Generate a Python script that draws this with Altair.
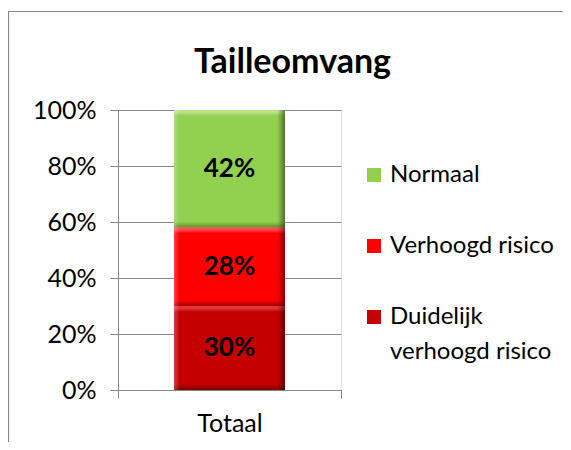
import altair as alt
import pandas as pd

categories = ["Totaal"]
series = ["Duidelijk verhoogd risico", "Verhoogd risico", "Normaal"]
values = [30, 28, 42]
legend_order = ["Normaal", "Verhoogd risico", "Duidelijk verhoogd risico"]
legend_colors = ["#92D050", "#FF0000", "#C40000"]
y_ticks = [0, 0.2, 0.4, 0.6, 0.8, 1.0]
title_text = "Tailleomvang"

# bevel styling per series: (top light, base, bottom dark, bevel fraction)
bevel = {
    "Normaal": ("#b6e486", "#92D050", "#5f8a30", 0.05),
    "Verhoogd risico": ("#ff4a4a", "#FF0000", "#a80000", 0.075),
    "Duidelijk verhoogd risico": ("#e23434", "#C40000", "#7a0000", 0.07),
}

df = pd.DataFrame({
    "cat": [categories[0]] * len(series),
    "serie": series,
    "value": values,
    "idx": list(range(len(series))),
})

FONT = "Lato"
GRAY = "#868686"

base = alt.Chart(df).transform_stack(
    stack="value", groupby=["cat"], as_=["y0", "y1"],
    sort=[alt.SortField("idx", order="ascending")], offset="normalize",
).transform_calculate(mid="(datum.y0 + datum.y1) / 2")

x_enc = alt.X("cat:N", title=None,
              scale=alt.Scale(paddingInner=0, paddingOuter=0),
              axis=alt.Axis(
                  labelAngle=0, tickBand="extent", domainColor=GRAY, tickColor=GRAY,
                  tickSize=8, labelFontSize=25, labelFont=FONT, labelColor="#000000",
                  labelPadding=13, grid=False))

y_enc = alt.Y("y0:Q", title=None, scale=alt.Scale(domain=[0, 1]),
              axis=alt.Axis(values=y_ticks, format=".0%", domainColor=GRAY,
                            tickColor=GRAY, tickSize=8, gridColor=GRAY,
                            labelFontSize=25, labelFont=FONT,
                            labelColor="#000000", labelPadding=14))

bars = base.mark_bar(size=111).encode(
    x=x_enc,
    y=y_enc,
    y2="y1:Q",
    color=alt.Color("serie:N", scale=alt.Scale(domain=legend_order, range=legend_colors),
                    legend=alt.Legend(
                        title=None, orient="none", legendX=244, legendY=53,
                        symbolType="square", symbolSize=196, symbolStrokeWidth=0,
                        labelFontSize=24, labelFont=FONT, labelColor="#000000",
                        labelLimit=300, labelOffset=4, rowPadding=47,
                        labelExpr="datum.label == 'Duidelijk verhoogd risico' ? ['Duidelijk', 'verhoogd risico'] : datum.label")),
)

bevel_layers = []
for name, (light, mid, dark, f) in bevel.items():
    grad = alt.LinearGradient(
        gradient="linear", x1=0, x2=0, y1=0, y2=1,
        stops=[alt.GradientStop(color=light, offset=0),
               alt.GradientStop(color=light, offset=f * 0.4),
               alt.GradientStop(color=mid, offset=f),
               alt.GradientStop(color=mid, offset=1 - f),
               alt.GradientStop(color=dark, offset=1)])
    bevel_layers.append(
        base.transform_filter(alt.datum.serie == name)
        .mark_bar(size=111, color=grad)
        .encode(x=alt.X("cat:N"), y=alt.Y("y0:Q"), y2="y1:Q")
    )

side_grad = alt.LinearGradient(
    gradient="linear", x1=0, x2=1, y1=0, y2=0,
    stops=[alt.GradientStop(color="rgba(255,255,255,0.25)", offset=0),
           alt.GradientStop(color="rgba(255,255,255,0)", offset=0.05),
           alt.GradientStop(color="rgba(0,0,0,0)", offset=0.93),
           alt.GradientStop(color="rgba(0,0,0,0.45)", offset=1)])
sides = base.mark_bar(size=111, color=side_grad).encode(
    x=alt.X("cat:N"), y=alt.Y("y0:Q"), y2="y1:Q")

labels = base.mark_text(fontSize=26, fontWeight="bold", font=FONT, color="#000000").encode(
    x=alt.X("cat:N"),
    y=alt.Y("mid:Q"),
    text=alt.Text("label:N"),
).transform_calculate(label="datum.value + '%'")

title = alt.Chart(alt.Data(values=[{"t": title_text}])).mark_text(
    fontSize=34, fontWeight="bold", font=FONT, color="#000000",
    align="center", baseline="alphabetic"
).encode(x=alt.value(174.5), y=alt.value(-37), text="t:N")

frame = alt.Chart(alt.Data(values=[{"a": 1}])).mark_rect(
    fill="transparent", stroke=GRAY, strokeWidth=1.2
).encode(
    x=alt.value(-109.5), x2=alt.value(700), y=alt.value(-98.5), y2=alt.value(700)
)

chart = alt.layer(frame, title, bars, *bevel_layers, sides, labels).properties(
    width=223, height=280,
    autosize=alt.AutoSizeParams(type="none"),
    padding={"left": 110, "top": 102, "right": 222, "bottom": 52},
).configure_view(stroke=None).configure(
    style={"guide-label": {"lineHeight": 35}}
)

chart.save("out.html", embed_options={"renderer": "svg", "actions": False})
